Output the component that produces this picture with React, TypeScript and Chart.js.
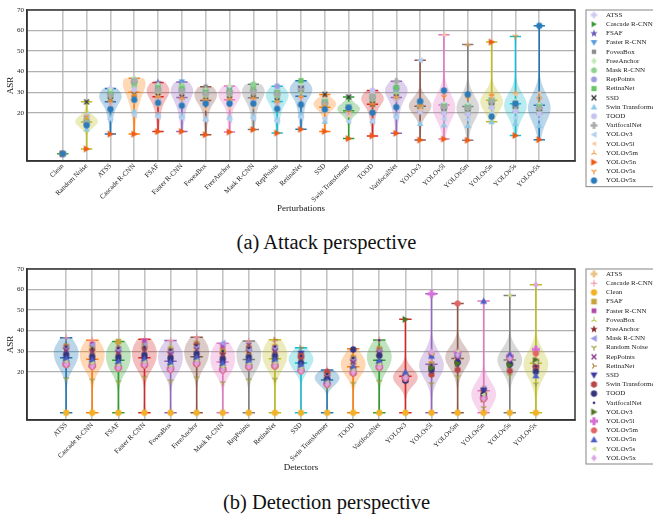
import React, { useEffect, useRef } from 'react';
import { Chart, registerables } from 'chart.js';

Chart.register(...registerables);

// ---------------- data ----------------
const perturbations = [
  'Clean', 'Random Noise', 'ATSS', 'Cascade R-CNN', 'FSAF', 'Faster R-CNN', 'FoveaBox', 'FreeAnchor',
  'Mask R-CNN', 'RepPoints', 'RetinaNet', 'SSD', 'Swin Transformer', 'TOOD', 'VarifocalNet',
  'YOLOv3', 'YOLOv5l', 'YOLOv5m', 'YOLOv5n', 'YOLOv5s', 'YOLOv5x',
];
const detectors = [
  'ATSS', 'Cascade R-CNN', 'FSAF', 'Faster R-CNN', 'FoveaBox', 'FreeAnchor', 'Mask R-CNN', 'RepPoints',
  'RetinaNet', 'SSD', 'Swin Transformer', 'TOOD', 'VarifocalNet', 'YOLOv3', 'YOLOv5l', 'YOLOv5m',
  'YOLOv5n', 'YOLOv5s', 'YOLOv5x',
];
// alphabetical order (used for legend (b) and colour cycle of (a))
const perturbationsSorted = [
  'ATSS', 'Cascade R-CNN', 'Clean', 'FSAF', 'Faster R-CNN', 'FoveaBox', 'FreeAnchor', 'Mask R-CNN',
  'Random Noise', 'RepPoints', 'RetinaNet', 'SSD', 'Swin Transformer', 'TOOD', 'VarifocalNet',
  'YOLOv3', 'YOLOv5l', 'YOLOv5m', 'YOLOv5n', 'YOLOv5s', 'YOLOv5x',
];
const yTickValues = [20, 30, 40, 50, 60, 70];

// ASR of each detector (order of `detectors`) under each perturbation
const asrClean = [0, 0, 0, 0, 0, 0, 0, 0, 0, 0, 0, 0, 0, 0, 0, 0, 0, 0, 0];
const asrRandomNoise = [16.5, 15.8, 14.9, 17.2, 15.4, 16.8, 14.6, 15.9, 16.2, 25.3, 12.1, 14.2, 15.1, 19.0, 14.0, 17.5, 2.4, 18.1, 13.9];
const asrATSS = [31.8, 29.5, 28.6, 30.2, 27.9, 30.8, 27.4, 28.8, 29.1, 26.3, 17.8, 24.0, 28.2, 16.9, 22.4, 26.1, 9.6, 25.2, 21.7];
const asrCascade = [36.5, 35.3, 34.2, 35.8, 35.2, 36.8, 33.1, 35.0, 35.0, 29.0, 20.8, 31.2, 35.5, 18.8, 24.9, 29.0, 9.6, 28.1, 26.3];
const asrFSAF = [32.4, 31.5, 34.7, 32.9, 30.6, 33.6, 30.2, 31.8, 32.1, 28.0, 19.1, 26.8, 31.0, 18.0, 23.6, 28.3, 10.8, 27.2, 24.8];
const asrFaster = [32.0, 33.5, 31.2, 35.0, 30.1, 33.2, 32.4, 31.0, 31.6, 27.6, 18.6, 26.0, 30.4, 17.4, 22.9, 27.5, 10.9, 26.5, 23.4];
const asrFoveaBox = [30.5, 29.8, 29.4, 30.3, 32.7, 31.0, 28.2, 29.6, 30.0, 26.0, 17.2, 24.8, 29.1, 16.4, 21.8, 26.6, 9.3, 25.6, 24.4];
const asrFreeAnchor = [31.0, 30.4, 29.9, 31.3, 29.0, 33.0, 28.6, 30.1, 30.5, 26.6, 17.9, 25.3, 29.6, 16.8, 22.2, 26.9, 10.6, 26.0, 24.4];
const asrMask = [31.6, 32.8, 30.6, 33.1, 29.6, 32.0, 33.9, 30.8, 31.2, 27.3, 18.4, 25.9, 30.2, 17.3, 22.8, 27.4, 11.8, 26.6, 24.4];
const asrRepPoints = [30.3, 29.4, 29.0, 30.0, 28.5, 30.6, 27.9, 32.9, 29.8, 25.8, 17.0, 24.5, 28.9, 16.0, 21.3, 25.9, 10.1, 25.0, 21.9];
const asrRetinaNet = [32.6, 31.6, 32.0, 32.3, 30.8, 33.5, 30.4, 31.9, 35.6, 31.7, 19.0, 27.0, 31.3, 17.9, 23.5, 28.2, 11.9, 27.3, 23.9];
const asrSSD = [25.8, 25.0, 24.6, 25.6, 24.1, 26.0, 23.6, 24.8, 25.2, 28.9, 15.8, 21.2, 24.4, 17.2, 20.6, 23.3, 10.9, 22.8, 21.6];
const asrSwin = [23.5, 22.8, 22.0, 23.1, 21.4, 23.8, 21.2, 22.4, 22.7, 27.7, 20.0, 19.2, 22.1, 15.7, 18.6, 20.9, 7.4, 20.4, 22.4];
const asrTOOD = [28.2, 27.3, 27.0, 27.9, 26.5, 28.6, 26.0, 27.2, 27.6, 24.2, 16.2, 30.8, 27.8, 15.7, 20.9, 24.6, 8.7, 23.7, 20.0];
const asrVFNet = [32.2, 31.3, 31.5, 32.0, 30.7, 32.9, 30.0, 31.6, 32.3, 27.7, 18.8, 26.7, 35.3, 17.6, 23.2, 27.9, 10.0, 27.0, 22.7];
const asrYOLOv3 = [24.8, 23.9, 23.0, 24.4, 22.6, 25.1, 22.1, 23.5, 23.9, 21.4, 14.8, 20.5, 23.3, 45.5, 21.8, 24.0, 6.7, 23.2, 25.6];
const asrYOLOv5l = [23.8, 22.9, 22.0, 23.6, 21.5, 24.2, 21.0, 22.6, 23.1, 20.6, 14.1, 19.7, 22.4, 17.0, 57.9, 29.4, 7.2, 27.6, 30.8];
const asrYOLOv5m = [23.3, 22.5, 21.6, 23.1, 21.0, 23.7, 20.6, 22.2, 22.6, 20.2, 13.8, 19.3, 21.9, 16.7, 28.6, 53.2, 6.6, 27.0, 28.9];
const asrYOLOv5n = [26.5, 25.8, 25.0, 26.3, 24.6, 27.0, 24.2, 25.5, 26.0, 23.4, 15.6, 22.5, 25.3, 19.8, 27.7, 29.0, 54.4, 28.3, 18.1];
const asrYOLOv5s = [24.9, 24.1, 23.2, 24.7, 22.7, 25.3, 22.3, 23.7, 24.2, 21.5, 14.9, 20.8, 23.5, 17.5, 28.9, 30.0, 8.9, 57.1, 24.4];
const asrYOLOv5x = [23.5, 22.6, 21.8, 23.3, 21.2, 23.9, 20.8, 22.4, 22.8, 20.3, 13.9, 19.5, 22.1, 16.9, 29.6, 28.2, 6.9, 26.4, 62.3];

const asrByPerturbation: Record<string, number[]> = {
  'Clean': asrClean, 'Random Noise': asrRandomNoise, 'ATSS': asrATSS, 'Cascade R-CNN': asrCascade,
  'FSAF': asrFSAF, 'Faster R-CNN': asrFaster, 'FoveaBox': asrFoveaBox, 'FreeAnchor': asrFreeAnchor,
  'Mask R-CNN': asrMask, 'RepPoints': asrRepPoints, 'RetinaNet': asrRetinaNet, 'SSD': asrSSD,
  'Swin Transformer': asrSwin, 'TOOD': asrTOOD, 'VarifocalNet': asrVFNet, 'YOLOv3': asrYOLOv3,
  'YOLOv5l': asrYOLOv5l, 'YOLOv5m': asrYOLOv5m, 'YOLOv5n': asrYOLOv5n, 'YOLOv5s': asrYOLOv5s,
  'YOLOv5x': asrYOLOv5x,
};

// ---------------- styles ----------------
const tab10 = ['#1f77b4', '#ff7f0e', '#2ca02c', '#d62728', '#9467bd', '#8c564b', '#e377c2', '#7f7f7f', '#bcbd22', '#17becf'];
const FONT = '"Liberation Serif", "DejaVu Serif", serif';

type MarkerDef = [string, string, number];
const detectorMarkers: MarkerDef[] = [
  ['plusFilled', '#cfcaf0', 6.5], ['triRight', '#3a9a3a', 6], ['star', '#6a5cb8', 7.5], ['triDown', '#5b9bdd', 6.5],
  ['square', '#8e8e8e', 5.5], ['diamond', '#bfe8b2', 7], ['hex', '#8fd18f', 6.5], ['circle', '#9d9de0', 6.5],
  ['square', '#6ac46a', 6.5], ['x', '#3a3a3a', 6], ['triUp', '#8ec8e8', 6.5], ['circle', '#c4c4ee', 6.5],
  ['plusFilled', '#ababab', 7], ['triLeft', '#b3d0f0', 6.5], ['triLeft', '#f8c49c', 5], ['tri2', '#f4a250', 6],
  ['triRight', '#f05a14', 7], ['tri1', '#f08a2a', 6], ['circle', '#2b7bba', 7],
];
const perturbationMarkers: MarkerDef[] = [
  ['plusFilled', '#e9c285', 7], ['plus', '#f0909c', 6.5], ['circle', '#f2b228', 7], ['square', '#c8a23c', 7],
  ['square', '#b04cae', 6], ['tri2', '#b5cb58', 6], ['star', '#8c2c2c', 7.5], ['triLeft', '#9c9ce6', 7],
  ['tri1', '#9c9c38', 6], ['x', '#8a3c8a', 6], ['tri4', '#a8782c', 6], ['triDown', '#3a3a9e', 7],
  ['hex', '#b84848', 7], ['circle', '#34347c', 7], ['dot', '#303078', 6], ['triRight', '#4d7420', 7],
  ['plusFilled', '#d86ed8', 8], ['oct', '#e26666', 7], ['triUp', '#4b5ec4', 7], ['triLeft', '#ccdc84', 5],
  ['diamond', '#dba2e6', 7],
];

function makeMarker(shape: string, color: string, size: number): HTMLCanvasElement {
  const S = Math.ceil(size) + 4;
  const c = document.createElement('canvas');
  c.width = S; c.height = S;
  const g = c.getContext('2d') as CanvasRenderingContext2D;
  const cx = S / 2, cy = S / 2, r = size / 2;
  g.fillStyle = color; g.strokeStyle = color; g.lineWidth = 1.1;
  const poly = (pts: number[][]) => {
    g.beginPath();
    pts.forEach(([x, y], i) => (i ? g.lineTo(cx + x, cy + y) : g.moveTo(cx + x, cy + y)));
    g.closePath(); g.fill();
  };
  const regular = (k: number, rad: number, off: number) => {
    const pts: number[][] = [];
    for (let i = 0; i < k; i++) { const a = off + (i * 2 * Math.PI) / k; pts.push([rad * Math.cos(a), rad * Math.sin(a)]); }
    poly(pts);
  };
  const spokes = (angles: number[]) => {
    g.beginPath();
    angles.forEach((a) => { g.moveTo(cx, cy); g.lineTo(cx + r * Math.cos(a), cy + r * Math.sin(a)); });
    g.stroke();
  };
  const d = Math.PI / 180;
  switch (shape) {
    case 'circle': g.beginPath(); g.arc(cx, cy, r * 0.9, 0, 2 * Math.PI); g.fill(); break;
    case 'dot': g.beginPath(); g.arc(cx, cy, r * 0.45, 0, 2 * Math.PI); g.fill(); break;
    case 'square': g.fillRect(cx - r * 0.8, cy - r * 0.8, r * 1.6, r * 1.6); break;
    case 'diamond': poly([[0, -r], [r * 0.75, 0], [0, r], [-r * 0.75, 0]]); break;
    case 'triUp': poly([[0, -r], [r, r * 0.8], [-r, r * 0.8]]); break;
    case 'triDown': poly([[0, r], [r, -r * 0.8], [-r, -r * 0.8]]); break;
    case 'triLeft': poly([[-r, 0], [r * 0.8, -r], [r * 0.8, r]]); break;
    case 'triRight': poly([[r, 0], [-r * 0.8, -r], [-r * 0.8, r]]); break;
    case 'hex': regular(6, r, -Math.PI / 2); break;
    case 'oct': regular(8, r * 0.95, Math.PI / 8); break;
    case 'star': {
      const pts: number[][] = [];
      for (let i = 0; i < 10; i++) {
        const rad = i % 2 === 0 ? r * 1.05 : r * 0.45;
        const a = -Math.PI / 2 + (i * Math.PI) / 5;
        pts.push([rad * Math.cos(a), rad * Math.sin(a)]);
      }
      poly(pts); break;
    }
    case 'plus':
      g.beginPath(); g.moveTo(cx - r, cy); g.lineTo(cx + r, cy); g.moveTo(cx, cy - r); g.lineTo(cx, cy + r); g.stroke(); break;
    case 'x':
      g.lineWidth = 1.4;
      g.beginPath(); g.moveTo(cx - r * 0.8, cy - r * 0.8); g.lineTo(cx + r * 0.8, cy + r * 0.8);
      g.moveTo(cx + r * 0.8, cy - r * 0.8); g.lineTo(cx - r * 0.8, cy + r * 0.8); g.stroke(); break;
    case 'plusFilled': {
      const w = r * 0.38;
      poly([[-w, -r], [w, -r], [w, -w], [r, -w], [r, w], [w, w], [w, r], [-w, r], [-w, w], [-r, w], [-r, -w], [-w, -w]]);
      break;
    }
    case 'tri1': spokes([90 * d, 210 * d, 330 * d]); break;
    case 'tri2': spokes([270 * d, 30 * d, 150 * d]); break;
    case 'tri3': spokes([180 * d, 300 * d, 60 * d]); break;
    case 'tri4': spokes([0, 120 * d, 240 * d]); break;
    default: g.beginPath(); g.arc(cx, cy, r, 0, 2 * Math.PI); g.fill();
  }
  return c;
}

// matplotlib-like violin (gaussian KDE, Scott bandwidth)
function violinShape(values: number[]) {
  const n = values.length;
  const lo = Math.min(...values), hi = Math.max(...values);
  const mean = values.reduce((a, b) => a + b, 0) / n;
  const sd = Math.sqrt(values.reduce((a, b) => a + (b - mean) ** 2, 0) / (n - 1));
  if (!(sd > 0) || hi === lo) return { lo, hi, mean, pts: [] as number[][] };
  const bw = sd * Math.pow(n, -0.2);
  const pts: number[][] = [];
  for (let k = 0; k < 100; k++) {
    const y = lo + ((hi - lo) * k) / 99;
    let dens = 0;
    for (const v of values) dens += Math.exp(-0.5 * ((y - v) / bw) ** 2);
    pts.push([y, dens]);
  }
  const maxd = Math.max(...pts.map((p) => p[1]));
  return { lo, hi, mean, pts: pts.map(([y, dd]) => [y, dd / maxd]) };
}

interface ChartSpec {
  cats: string[];
  catColors: string[];
  seriesNames: string[];
  seriesValues: number[][]; // [series][category]
  markers: MarkerDef[];
  xTitle: string;
}

function buildChart(canvas: HTMLCanvasElement, spec: ChartSpec) {
  const { cats, catColors, seriesNames, seriesValues, markers, xTitle } = spec;
  const n = cats.length;
  const imgs = markers.map(([s, c, z]) => makeMarker(s, c, z));
  const groups = cats.map((_, ci) => seriesValues.map((sv) => sv[ci]));
  const widths = 0.95;

  const violinPlugin = {
    id: 'violins',
    beforeDatasetsDraw(chart: any) {
      const { ctx, chartArea } = chart;
      const xs = chart.scales.x, ys = chart.scales.y;
      ctx.save();
      ctx.beginPath();
      ctx.rect(chartArea.left, chartArea.top, chartArea.right - chartArea.left, chartArea.bottom - chartArea.top);
      ctx.clip();
      groups.forEach((vals, i) => {
        const sh = violinShape(vals);
        const col = catColors[i];
        if (sh.pts.length) {
          ctx.beginPath();
          sh.pts.forEach(([y, dd], k) => {
            const px = xs.getPixelForValue(i + (dd * widths) / 2);
            const py = ys.getPixelForValue(y);
            if (k) ctx.lineTo(px, py); else ctx.moveTo(px, py);
          });
          for (let k = sh.pts.length - 1; k >= 0; k--) {
            const [y, dd] = sh.pts[k];
            ctx.lineTo(xs.getPixelForValue(i - (dd * widths) / 2), ys.getPixelForValue(y));
          }
          ctx.closePath();
          ctx.globalAlpha = 0.3;
          ctx.fillStyle = col;
          ctx.fill();
          ctx.globalAlpha = 1;
        }
        ctx.strokeStyle = col;
        ctx.lineWidth = 1.5;
        const cx = xs.getPixelForValue(i);
        const x0 = xs.getPixelForValue(i - widths / 4), x1 = xs.getPixelForValue(i + widths / 4);
        ctx.beginPath();
        ctx.moveTo(cx, ys.getPixelForValue(sh.lo)); ctx.lineTo(cx, ys.getPixelForValue(sh.hi));
        [sh.lo, sh.hi, sh.mean].forEach((v) => {
          const py = ys.getPixelForValue(v);
          ctx.moveTo(x0, py); ctx.lineTo(x1, py);
        });
        ctx.stroke();
      });
      ctx.restore();
    },
  };

  const framePlugin = {
    id: 'frameLegend',
    afterDraw(chart: any) {
      const { ctx, chartArea } = chart;
      ctx.save();
      ctx.strokeStyle = '#333';
      ctx.lineWidth = 1.5;
      ctx.strokeRect(chartArea.left, chartArea.top, chartArea.right - chartArea.left, chartArea.bottom - chartArea.top);
      // legend
      const rowH = 9.2;
      const left = chartArea.right + 11;
      const top = chartArea.top;
      const h = 5 + (seriesNames.length - 1) * rowH + 6;
      ctx.fillStyle = '#fff';
      ctx.fillRect(left, top, 90, h);
      ctx.strokeStyle = '#999';
      ctx.lineWidth = 1.2;
      ctx.strokeRect(left, top, 90, h);
      ctx.font = `7px ${FONT}`;
      ctx.textBaseline = 'middle';
      ctx.textAlign = 'left';
      seriesNames.forEach((name, i) => {
        const y = top + 5 + i * rowH;
        const img = imgs[i];
        ctx.drawImage(img, left + 8 - img.width / 2, y - img.height / 2);
        ctx.fillStyle = '#222';
        ctx.fillText(name, left + 20, y);
      });
      ctx.restore();
    },
  };

  const datasets = seriesNames.map((name, si) => ({
    label: name,
    data: cats.map((_, ci) => ({ x: ci, y: seriesValues[si][ci] })),
    pointStyle: imgs[si] as any,
    pointRadius: 3.5,
    order: seriesNames.length - si,
    showLine: false,
  }));

  return new Chart(canvas, {
    type: 'scatter',
    data: { datasets },
    plugins: [violinPlugin, framePlugin],
    options: {
      animation: false,
      responsive: false,
      devicePixelRatio: 1,
      events: [],
      layout: { padding: { left: 0, top: 10, right: 78, bottom: 0 } },
      plugins: { legend: { display: false }, tooltip: { enabled: false } },
      scales: {
        x: {
          type: 'linear',
          min: -1.5,
          max: n - 1 + 1.5,
          afterBuildTicks: (axis: any) => { axis.ticks = cats.map((_, i) => ({ value: i })); },
          afterFit: (s: any) => { s.height = 57; },
          ticks: {
            callback: (v: any) => cats[Math.round(Number(v))] ?? '',
            autoSkip: false,
            minRotation: 45,
            maxRotation: 45,
            padding: 1,
            color: '#222',
            font: { family: FONT, size: 7 },
          },
          grid: { color: '#c4c4c4', lineWidth: 1.6, drawTicks: false },
          border: { color: '#333', width: 1.5 },
          title: { display: true, text: xTitle, color: '#111', font: { family: FONT, size: 9 }, padding: { top: 0, bottom: 4 } },
        },
        y: {
          type: 'linear',
          min: -3.5,
          max: 70,
          afterBuildTicks: (axis: any) => { axis.ticks = yTickValues.map((v) => ({ value: v })); },
          afterFit: (s: any) => { s.width = 27; },
          ticks: { color: '#222', font: { family: FONT, size: 7 }, padding: 3 },
          grid: { color: '#b0b0b0', lineWidth: 1.3, drawTicks: false },
          border: { color: '#333', width: 1.5 },
          title: { display: true, text: 'ASR', color: '#111', font: { family: FONT, size: 9 }, padding: { top: 5, bottom: 0 } },
        },
      },
    } as any,
  });
}

export default function App() {
  const refA = useRef<HTMLCanvasElement>(null);
  const refB = useRef<HTMLCanvasElement>(null);

  useEffect(() => {
    // (a) attack perspective: x = perturbations, points = detectors
    const specA: ChartSpec = {
      cats: perturbations,
      catColors: perturbations.map((p) => tab10[perturbationsSorted.indexOf(p) % 10]),
      seriesNames: detectors,
      seriesValues: detectors.map((_, di) => perturbations.map((p) => asrByPerturbation[p][di])),
      markers: detectorMarkers,
      xTitle: 'Perturbations',
    };
    // (b) detection perspective: x = detectors, points = perturbations
    const specB: ChartSpec = {
      cats: detectors,
      catColors: detectors.map((_, i) => tab10[i % 10]),
      seriesNames: perturbationsSorted,
      seriesValues: perturbationsSorted.map((p) => detectors.map((_, di) => asrByPerturbation[p][di])),
      markers: perturbationMarkers,
      xTitle: 'Detectors',
    };
    const a = buildChart(refA.current as HTMLCanvasElement, specA);
    const b = buildChart(refB.current as HTMLCanvasElement, specB);
    return () => { a.destroy(); b.destroy(); };
  }, []);

  const caption: React.CSSProperties = {
    position: 'absolute', left: 0, width: 653, textAlign: 'center',
    fontFamily: FONT, fontSize: 20.5, color: '#111', lineHeight: '24px', whiteSpace: 'nowrap',
  };

  return (
    <div style={{ position: 'absolute', left: 0, top: 0, width: 653, height: 518, overflow: 'hidden', background: '#fff' }}>
      <canvas ref={refA} width={653} height={218} style={{ position: 'absolute', left: 0, top: 0, width: 653, height: 218 }} />
      <div style={{ ...caption, top: 230 }}>(a) Attack perspective</div>
      <canvas ref={refB} width={653} height={218} style={{ position: 'absolute', left: 0, top: 259, width: 653, height: 218 }} />
      <div style={{ ...caption, top: 490 }}>(b) Detection perspective</div>
    </div>
  );
}
